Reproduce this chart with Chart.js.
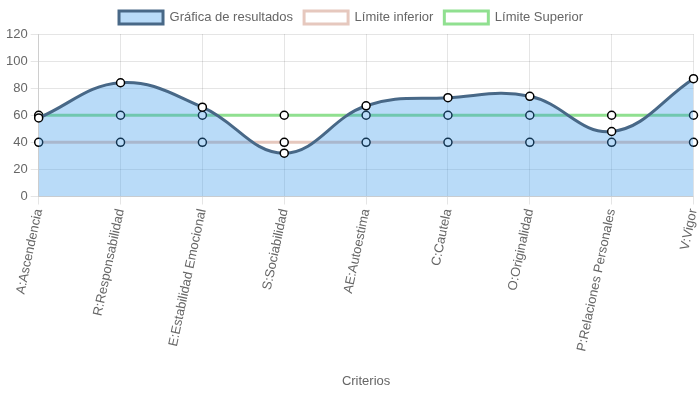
<!DOCTYPE html>
<html>
<head>
<meta charset="utf-8">
<script src="https://cdn.jsdelivr.net/npm/chart.js@4/dist/chart.umd.min.js"></script>
<style>
  html, body { margin: 0; padding: 0; background: #fff; }
  #wrap { width: 699px; height: 393px; }
</style>
</head>
<body>
<div id="wrap"><canvas id="js_resultChart"></canvas></div>
<script>
const criterios = [
  'A:Ascendencia', 'R:Responsabilidad', 'E:Estabilidad Emocional', 'S:Sociabilidad',
  'AE:Autoestima', 'C:Cautela', 'O:Originalidad', 'P:Relaciones Personales', 'V:Vigor',
];
const resultados = [58, 84, 66, 32, 67, 73, 74, 48, 87];
const limiteInferior = [40, 40, 40, 40, 40, 40, 40, 40, 40];
const limiteSuperior = [60, 60, 60, 60, 60, 60, 60, 60, 60];

Chart.defaults.font.family = "'Helvetica Neue', Helvetica, Arial, sans-serif";
Chart.defaults.font.size = 13;
Chart.defaults.color = '#666';

const pointStyle = {
  pointRadius: 4,
  pointBorderWidth: 1.5,
  pointBackgroundColor: '#fff',
  pointBorderColor: '#000',
};

document.addEventListener('DOMContentLoaded', () => {
  const ctx = document.getElementById('js_resultChart');

  new Chart(ctx, {
    type: 'line',
    data: {
      labels: criterios,
      datasets: [{
        label: 'Gráfica de resultados',
        data: resultados,
        borderColor: 'rgba(72,104,135,1)',
        backgroundColor: 'rgba(54,152,235,0.35)',
        borderWidth: 3,
        fill: 'origin',
        tension: 0.4,
        ...pointStyle,
      }, {
        label: 'Límite inferior',
        data: limiteInferior,
        borderColor: 'rgba(230,200,190,1)',
        backgroundColor: 'rgba(255,255,255,0)',
        borderWidth: 3,
        fill: false,
        ...pointStyle,
      }, {
        label: 'Límite Superior',
        data: limiteSuperior,
        borderColor: 'rgba(144,224,144,1)',
        backgroundColor: 'rgba(255,255,255,0)',
        borderWidth: 3,
        fill: false,
        ...pointStyle,
      }],
    },
    options: {
      responsive: true,
      maintainAspectRatio: false,
      animation: false,
      layout: { padding: { left: 3 } },
      plugins: {
        legend: {
          labels: { boxWidth: 44, boxHeight: 13, padding: 11 },
        },
        tooltip: { enabled: false },
      },
      scales: {
        x: {
          title: { display: true, text: 'Criterios', padding: { top: 20 } },
          ticks: { minRotation: 78, maxRotation: 78 },
          grid: { color: 'rgba(0,0,0,0.1)' },
          // the last rotated label barely overhangs, keep the plot wide
          afterFit: (scale) => { scale.paddingRight = 4; },
        },
        y: {
          min: 0,
          max: 120,
          ticks: { stepSize: 20 },
          grid: { color: 'rgba(0,0,0,0.1)' },
        },
      },
    },
  });
});
</script>
</body>
</html>
